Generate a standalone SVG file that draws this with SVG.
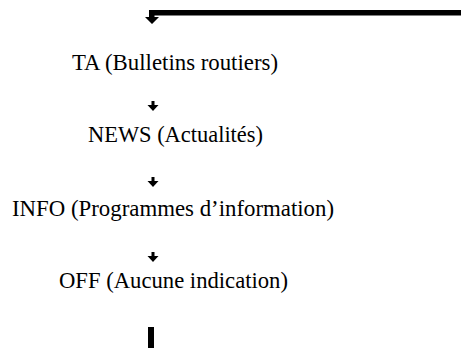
<svg xmlns="http://www.w3.org/2000/svg" width="461" height="348" viewBox="0 0 461 348">
<style>
.lbl{font-family:"Liberation Serif","DejaVu Serif",serif;font-size:22.5px;fill:#000;text-anchor:middle}
.ar{fill:#000}
</style>
<rect width="461" height="348" fill="#fff"/>
<g id="connectors">
  <path class="ar" d="M149,10 H461 V15.5 H154.5 V17 H159 L152,24 L145,17 H149 Z"/>
  <path class="ar" d="M151.5,101 H154.5 V105 H158.5 L153,111 L147.5,105 H151.5 Z"/>
  <path class="ar" d="M151.5,177 H154.5 V181 H158.5 L153,187 L147.5,181 H151.5 Z"/>
  <path class="ar" d="M151.5,252 H154.5 V256 H158.5 L153,262 L147.5,256 H151.5 Z"/>
  <rect class="ar" x="148" y="327" width="6" height="21"/>
</g>
<g id="node-ta"><text class="lbl" x="175" y="70" textLength="206" lengthAdjust="spacingAndGlyphs">TA (Bulletins routiers)</text></g>
<g id="node-news"><text class="lbl" x="175.5" y="142" textLength="175" lengthAdjust="spacingAndGlyphs">NEWS (Actualités)</text></g>
<g id="node-info"><text class="lbl" x="173" y="216" textLength="322" lengthAdjust="spacingAndGlyphs">INFO (Programmes d’information)</text></g>
<g id="node-off"><text class="lbl" x="173.5" y="288" textLength="229" lengthAdjust="spacingAndGlyphs">OFF (Aucune indication)</text></g>
</svg>
